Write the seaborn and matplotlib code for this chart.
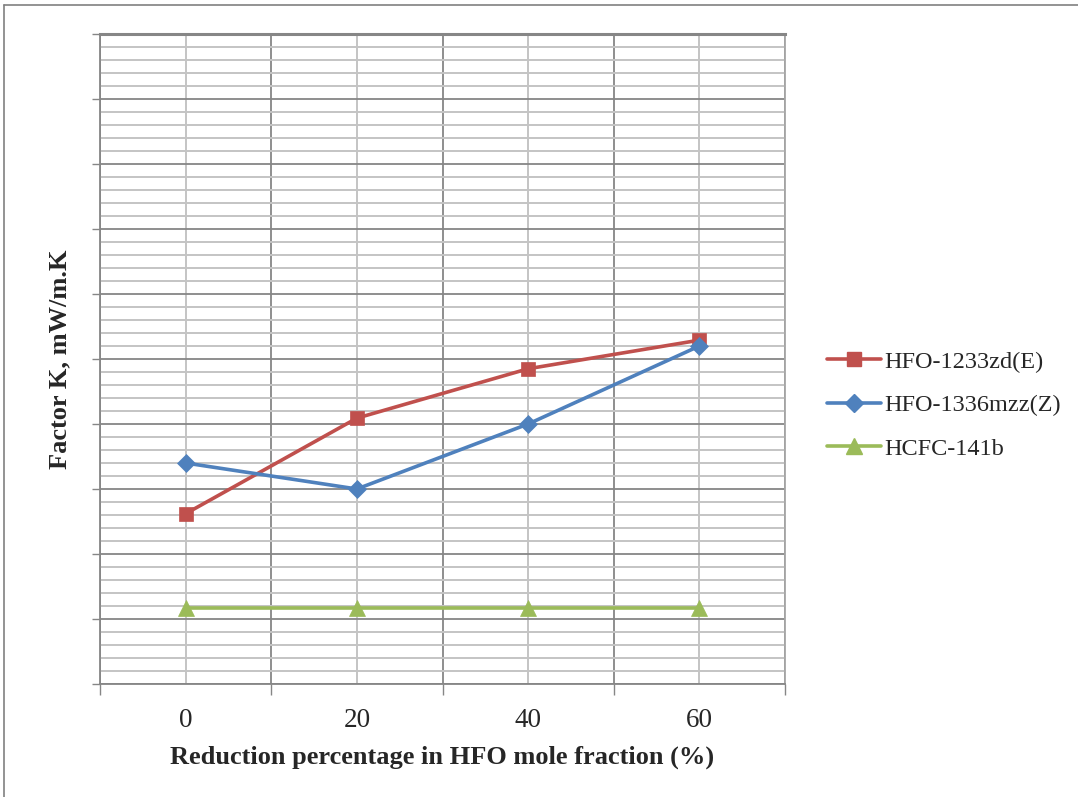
import pandas as pd
import matplotlib
matplotlib.use("Agg")
import matplotlib.pyplot as plt
from matplotlib.lines import Line2D
from matplotlib.ticker import MultipleLocator
import seaborn as sns

# values (y axis has no labels, scale is relative)
reduction = ["0", "20", "40", "60"]
hfo_1233zd = [20.62, 22.09, 22.85, 23.29]
hfo_1336mzz = [21.40, 21.00, 22.00, 23.20]
hcfc_141b = [19.17, 19.17, 19.17, 19.17]
series_names = ["HFO-1233zd(E)", "HFO-1336mzz(Z)", "HCFC-141b"]
colors = ["#C0504D", "#4F81BD", "#9BBB59"]
markers = ["s", "D", "^"]
msizes = [10.5, 9, 11]

rows = []
for name, vals in zip(series_names, [hfo_1233zd, hfo_1336mzz, hcfc_141b]):
    for i, v in enumerate(vals):
        rows.append({"pos": i, "k": v, "series": name})
df = pd.DataFrame(rows)

sns.set_style("white")
plt.rcParams['font.family'] = ['Liberation Serif', 'DejaVu Serif']

fig = plt.figure(figsize=(10.78, 7.97), dpi=100)
ax = fig.add_axes([100 / 1078, 1 - 684 / 797, 685 / 1078, 650 / 797])

sns.lineplot(data=df, x="pos", y="k", hue="series", style="series",
             hue_order=series_names, style_order=series_names,
             palette=colors, markers=markers, dashes=False,
             linewidth=2.6, markersize=10, legend=False, ax=ax)

# Excel style markers: filled, edge same colour
for line, c, ms in zip(ax.lines, colors, msizes):
    line.set_markeredgecolor(c)
    line.set_markerfacecolor(c)
    line.set_markeredgewidth(0.5)
    line.set_markersize(ms)

ax.set_xlim(-0.5, 3.5)
ax.set_ylim(18, 28)

# grid: category boundaries + centres, major/minor horizontal
ax.set_xticks([-0.5, 0.5, 1.5, 2.5, 3.5])
ax.set_xticklabels([])
ax.set_xticks(range(len(reduction)), minor=True)
ax.set_xticklabels(reduction, minor=True, fontsize=19.5)
ax.yaxis.set_major_locator(MultipleLocator(1))
ax.yaxis.set_minor_locator(MultipleLocator(0.2))
ax.set_yticklabels([])

ax.grid(which="major", axis="both", color="#868686", linewidth=1.3)
ax.grid(which="minor", axis="both", color="#C4C4C4", linewidth=1.4)
ax.set_axisbelow(True)

ax.tick_params(axis="x", which="major", length=8, width=1, color="#868686", direction="out", bottom=True)
ax.tick_params(axis="x", which="minor", length=0, pad=17)
ax.tick_params(axis="y", which="major", length=6, width=1, color="#868686", direction="out", left=True)
ax.tick_params(axis="y", which="minor", length=0)

for side, sp in ax.spines.items():
    sp.set_color("#868686")
    sp.set_linewidth(1.3)
ax.spines["top"].set_linewidth(2.2)
ax.spines["right"].set_color("#A6A6A6")

ax.set_xlabel("Reduction percentage in HFO mole fraction (%)", fontsize=19,
              fontweight="bold", labelpad=9)
ax.set_ylabel("Factor K, mW/m.K", fontsize=19, fontweight="bold", labelpad=11)

handles = [Line2D([0], [0], color=c, marker=m, linewidth=2.6, markersize=ms,
                  markeredgecolor=c, markerfacecolor=c)
           for c, m, ms in zip(colors, markers, msizes)]
ax.legend(handles, series_names, loc="center left", bbox_to_anchor=(1.0475, 0.429),
          frameon=False, fontsize=17.5, handlelength=2.2, handletextpad=0.15,
          labelspacing=0.88, borderaxespad=0)

# chart area border (only left/top visible in the reference)
fig.add_artist(Line2D([4 / 1078, 4 / 1078], [0, 1 - 5 / 797], color="#808080",
                      linewidth=1.2, transform=fig.transFigure))
fig.add_artist(Line2D([4 / 1078, 1], [1 - 5 / 797, 1 - 5 / 797], color="#808080",
                      linewidth=1.2, transform=fig.transFigure))

fig.savefig("out.png", dpi=100)
